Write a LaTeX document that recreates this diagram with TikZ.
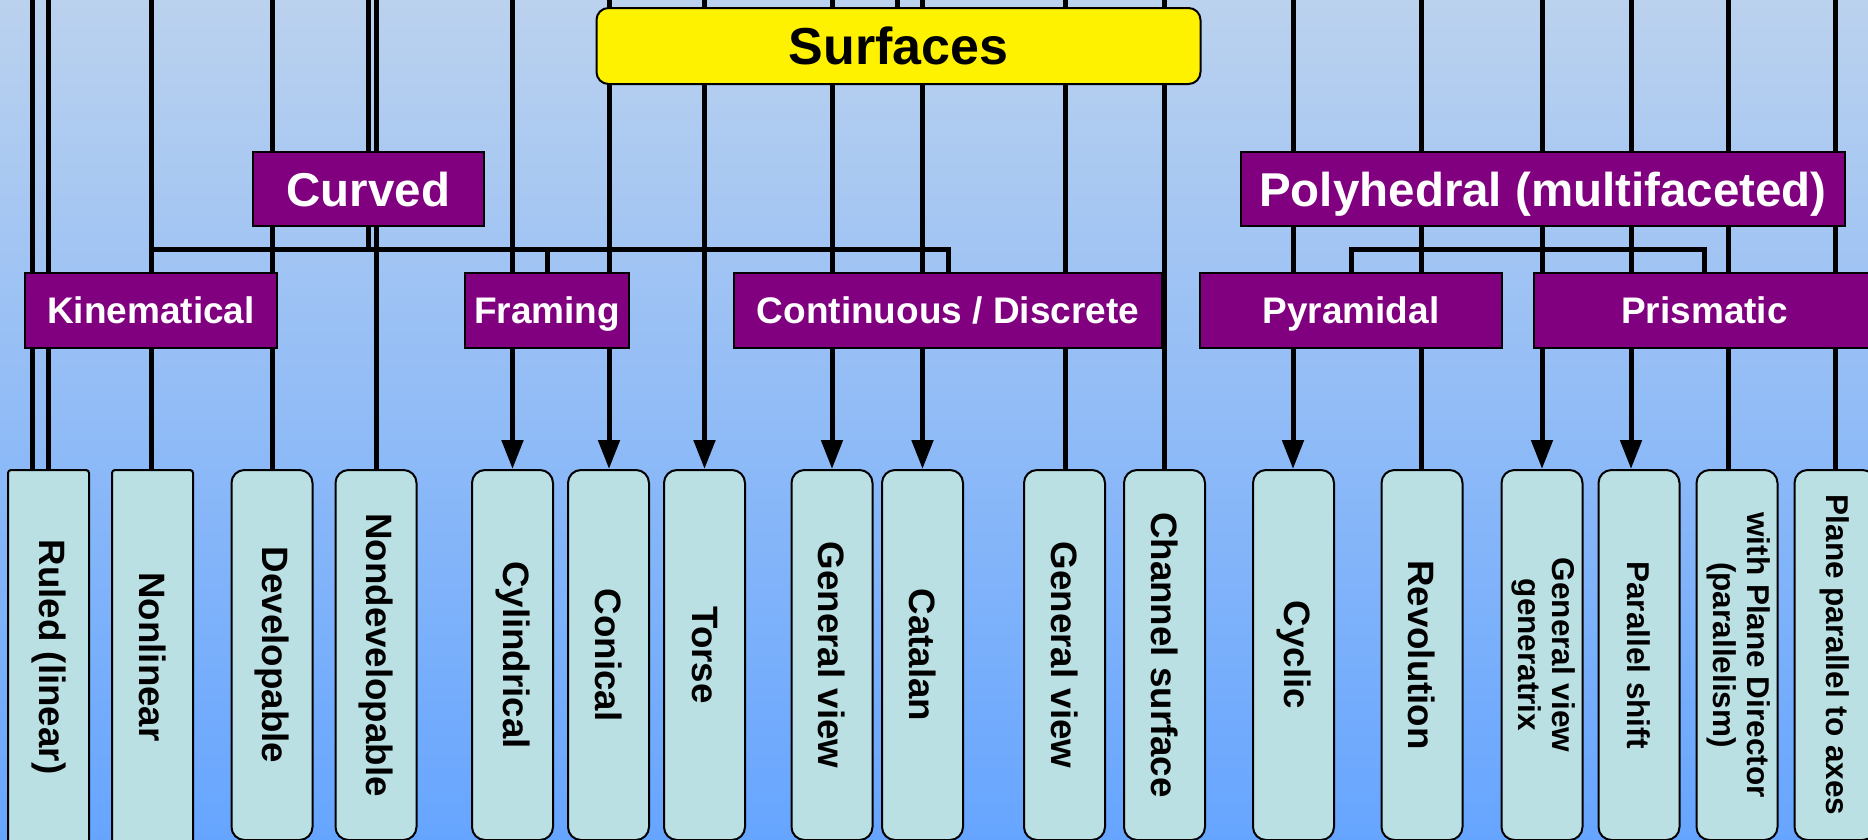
\documentclass[tikz,border=0pt]{standalone}
\usepackage{fontspec}
\usepackage{graphicx}
\setmainfont{Liberation Sans}
\usetikzlibrary{arrows.meta}
\pgfdeclarelayer{bgl}
\pgfdeclarelayer{linel}
\pgfsetlayers{bgl,linel,main}
\definecolor{purp}{RGB}{128,0,128}
\definecolor{leafc}{RGB}{187,224,227}
\definecolor{bgtop}{RGB}{187,210,238}
\definecolor{bgmid}{RGB}{138,192,250}
\definecolor{bgbot}{RGB}{102,165,255}
\begin{document}
\begin{tikzpicture}[x=1pt,y=-1pt,
  catbox/.style={draw=black, line width=2pt, fill=purp, text=white,
    font=\bfseries\fontsize{37}{40}\selectfont, inner sep=0pt, minimum height=75pt,
    text height=26.5pt, text depth=0pt},
  bigcat/.style={catbox, font=\bfseries\fontsize{47.5}{52}\selectfont, minimum height=74pt,
    text height=34pt},
  leafbox/.style={draw=black, line width=2pt, fill=leafc, rounded corners=13pt,
    minimum width=81pt, minimum height=370pt, inner sep=0pt, anchor=north,
    font=\bfseries\fontsize{36.7}{40}\selectfont},
  sqleaf/.style={leafbox, rounded corners=3pt, minimum height=374pt},
  smallleaf/.style={leafbox, font=\bfseries\fontsize{31.5}{34}\selectfont},
  conn/.style={line width=5pt, draw=black},
  arr/.style={conn, -{Triangle[length=29pt,width=21pt]}}
]
\useasboundingbox (0,0) rectangle (1868,839);
\begin{pgfonlayer}{bgl}
\shade[top color=bgtop, middle color=bgmid, bottom color=bgbot] (0,0) rectangle (1868,839);
\end{pgfonlayer}

% ---- top and category boxes
\node[draw=black, line width=2pt, fill=yellow, rounded corners=12pt, inner sep=0pt,
  minimum width=604pt, minimum height=76pt, font=\bfseries\fontsize{52}{56}\selectfont,
  text height=37.5pt, text depth=0pt]
  (surf) at (898.5,46) {Surfaces};
\node[bigcat, minimum width=231pt] (curved) at (368.5,189) {Curved};
\node[bigcat, minimum width=604pt] (poly) at (1543,189) {Polyhedral (multifaceted)};
\node[catbox, minimum width=252pt] (kin) at (151,310.5) {Kinematical};
\node[catbox, minimum width=164pt] (frm) at (547,310.5) {Framing};
\node[catbox, minimum width=428pt] (cont) at (948,310) {Continuous / Discrete};
\node[catbox, minimum width=302pt] (pyr) at (1351,310.5) {Pyramidal};
\node[catbox, minimum width=341pt] (pris) at (1704.5,310.5) {Prismatic};

% ---- leaf boxes
\node[sqleaf] (ruled) at (48.5,469) {\rotatebox{-90}{Ruled (linear)}};
\node[sqleaf] (nonlin) at (152.5,469) {\rotatebox{-90}{Nonlinear}};
\node[leafbox] (dev) at (272,469) {\rotatebox{-90}{Developable}};
\node[leafbox] (nondev) at (376,469) {\rotatebox{-90}{Nondevelopable}};
\node[leafbox] (cyl) at (512.5,469) {\rotatebox{-90}{Cylindrical}};
\node[leafbox] (con) at (608.5,469) {\rotatebox{-90}{Conical}};
\node[leafbox] (tor) at (704.5,469) {\rotatebox{-90}{Torse}};
\node[leafbox] (gva) at (832,469) {\rotatebox{-90}{General view}};
\node[leafbox] (cat) at (922.5,469) {\rotatebox{-90}{Catalan}};
\node[leafbox] (gvb) at (1064.5,469) {\rotatebox{-90}{General view}};
\node[leafbox] (chan) at (1164.5,469) {\rotatebox{-90}{Channel surface}};
\node[leafbox] (cyc) at (1293.5,469) {\rotatebox{-90}{Cyclic}};
\node[leafbox] (rev) at (1422,469) {\rotatebox{-90}{Revolution}};
\node[smallleaf] (gvg) at (1542,469) {\rotatebox{-90}{\begin{tabular}{@{}c@{}}General view\\generatrix\end{tabular}}};
\node[smallleaf] (pshift) at (1639,469) {\rotatebox{-90}{Parallel shift}};
\node[smallleaf] (pdir) at (1737,469) {\rotatebox{-90}{\begin{tabular}{@{}c@{}}with Plane Director\\(parallelism)\end{tabular}}};
\node[smallleaf] (ppax) at (1835,469) {\rotatebox{-90}{Plane parallel to axes}};

% ---- free upper ends of the vertical lines
\coordinate (t1) at (32.8,-10);
\coordinate (t2) at (48.2,-10);
\coordinate (t3) at (151,-10);
\coordinate (t4) at (272,-10);
\coordinate (t5) at (368.5,-10);
\coordinate (t6) at (376,-10);
\coordinate (t7) at (512.5,-10);
\coordinate (t8) at (609,-10);
\coordinate (t9) at (704.5,-10);
\coordinate (t10) at (832,-10);
\coordinate (t11) at (897.5,-10);
\coordinate (t12) at (922.5,-10);
\coordinate (t13) at (1065,-10);
\coordinate (t14) at (1164.5,-10);
\coordinate (t15) at (1293,-10);
\coordinate (t16) at (1421,-10);
\coordinate (t17) at (1542,-10);
\coordinate (t18) at (1631,-10);
\coordinate (t19) at (1728.5,-10);
\coordinate (t20) at (1835,-10);
\coordinate (cbar) at (151,249);
\coordinate (pbar) at (1351,249.5);

\begin{pgfonlayer}{linel}
\draw[conn] (t1) -- (t1 |- ruled.north);
\draw[conn] (t2) -- (t2 |- ruled.north);
\draw[conn] (t3) -- (t3 |- nonlin.north);
\draw[conn] (t4) -- (t4 |- dev.north);
\draw[conn] (t5) -- (t5 |- cbar);
\draw[conn] (t6) -- (t6 |- nondev.north);
\draw[arr] (t7) -- (t7 |- cyl.north);
\draw[arr] (t8) -- (t8 |- con.north);
\draw[arr] (t9) -- (t9 |- tor.north);
\draw[arr] (t10) -- (t10 |- gva.north);
\draw[conn] (t11) -- (t11 |- surf.north);
\draw[arr] (t12) -- (t12 |- cat.north);
\draw[conn] (t13) -- (t13 |- gvb.north);
\draw[conn] (t14) -- (t14 |- chan.north);
\draw[arr] (t15) -- (t15 |- cyc.north);
\draw[conn] (t16) -- (t16 |- rev.north);
\draw[arr] (t17) -- (t17 |- gvg.north);
\draw[arr] (t18) -- (t18 |- pshift.north);
\draw[conn] (t19) -- (t19 |- pdir.north);
\draw[conn] (t20) -- (t20 |- ppax.north);
% curved branch bar
\draw[conn] (cbar) -- (cbar -| cont.north) -- (cont.north);
\draw[conn] (frm.north |- cbar) -- (frm.north);
% polyhedral branch bar
\draw[conn] (pyr.north) -- (pbar) -- (pbar -| pris.north) -- (pris.north);
\end{pgfonlayer}
\end{tikzpicture}
\end{document}
